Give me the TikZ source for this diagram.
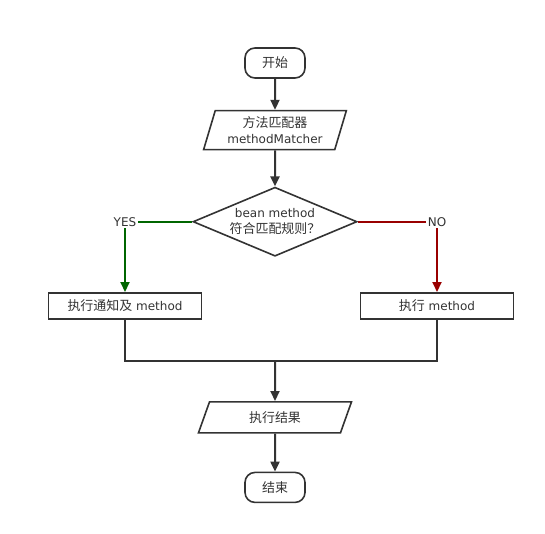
\documentclass[tikz,border=0pt]{standalone}
\usepackage{fontspec}
\setmainfont{DejaVu Sans}
\newfontfamily\cjk[Scale=1.08]{Noto Sans CJK SC}
\usepackage{xcolor}
\usepackage{tikz}
\usetikzlibrary{shapes.geometric,arrows.meta,positioning,calc}
\definecolor{ink}{HTML}{333333}
\definecolor{yesgreen}{HTML}{006600}
\definecolor{nored}{HTML}{990000}
\tikzset{
  term/.style={rectangle, draw=ink, line width=1.6pt, rounded corners=10pt,
               minimum height=30pt, minimum width=60pt, align=center,
               font=\fontsize{12}{14}\selectfont, text=ink},
  io/.style={trapezium, trapezium left angle=72, trapezium right angle=108,
             trapezium stretches=true, draw=ink, line width=1.6pt, align=center,
             font=\fontsize{12}{16}\selectfont, text=ink, inner sep=1pt},
  box/.style={rectangle, draw=ink, line width=1.6pt, minimum height=26pt,
              minimum width=153pt, align=center, font=\fontsize{12}{14}\selectfont,
              text=ink},
  dec/.style={diamond, aspect=2.4, draw=ink, line width=1.6pt, align=center,
              inner sep=0pt, minimum width=164pt, minimum height=69pt,
              font=\fontsize{12}{16}\selectfont, text=ink},
  lbl/.style={fill=white, inner sep=1.5pt, font=\fontsize{12}{14}\selectfont, text=ink},
  arr/.style={-{Triangle[length=10pt, width=9pt]}, line width=2pt, draw=ink},
  wire/.style={line width=2pt, draw=ink}
}
\begin{document}
\begin{tikzpicture}[x=1pt, y=1pt]
  \useasboundingbox (0,0) rectangle (545,-534);
  \node[term] (start) at (275,-63) {\cjk 开始};
  \node[io, below=31pt of start, minimum width=143pt, minimum height=39pt] (match) {{\cjk 方法匹配器}\\methodMatcher};
  \node[dec, below=36pt of match] (check) {bean method\\{\cjk 符合匹配规则？}};
  \node[box, below=35pt of check, xshift=-150pt] (advice) {{\cjk 执行通知及} method};
  \node[box, below=35pt of check, xshift=162pt] (plain) {{\cjk 执行} method};
  \coordinate[below=104pt of check] (join);
  \node[io, below=40pt of join, minimum width=154pt, minimum height=31pt] (result) {\cjk 执行结果};
  \node[term, below=38pt of result] (stop) {\cjk 结束};
  \draw[arr] (start)--(match);
  \draw[arr] (match)--(check);
  \draw[arr, draw=yesgreen] (check.west) -| node[lbl, pos=0.5] {YES} (advice.north);
  \draw[arr, draw=nored] (check.east) -| node[lbl, pos=0.5] {NO} (plain.north);
  \draw[wire] (advice.south) |- (join);
  \draw[wire] (plain.south) |- (join);
  \draw[arr] (join)--(result);
  \draw[arr] (result)--(stop);
\end{tikzpicture}
\end{document}
